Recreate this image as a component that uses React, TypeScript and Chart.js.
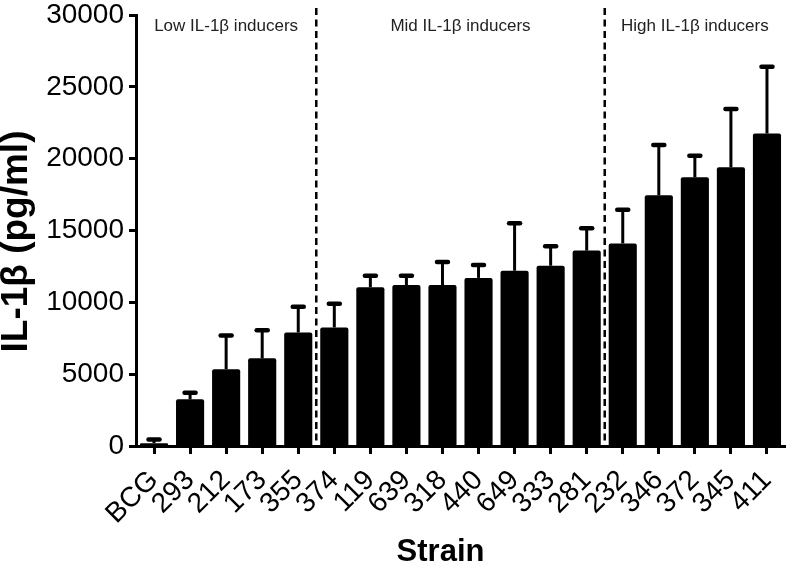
import React, { useEffect, useRef } from "react";
import { Chart, registerables } from "chart.js";

Chart.register(...registerables);

const strains = ["BCG", "293", "212", "173", "355", "374", "119", "639", "318", "440", "649", "333", "281", "232", "346", "372", "345", "411"];
const means = [200, 3250, 5350, 6100, 7900, 8250, 11050, 11200, 11200, 11700, 12200, 12550, 13600, 14100, 17450, 18700, 19400, 21750];
const errors = [250, 450, 2350, 1950, 1800, 1650, 800, 650, 1600, 900, 3300, 1350, 1550, 2350, 3500, 1500, 4050, 4650];
const groupLabels = ["Low IL-1β inducers", "Mid IL-1β inducers", "High IL-1β inducers"];
const groupStarts = [0, 5, 13];
const yMin = 0;
const yMax = 30000;
const yStep = 5000;
const yTitle = "IL-1β (pg/ml)";
const xTitle = "Strain";

const FONT = "'Liberation Sans', Arial, Helvetica, sans-serif";

const overlay = {
  id: "overlay",
  afterDatasetsDraw(chart: any) {
    const { ctx, chartArea } = chart;
    const x = chart.scales.x;
    const y = chart.scales.y;
    ctx.save();
    ctx.strokeStyle = "#000";
    // error bars (upper only)
    means.forEach((m, i) => {
      const bx = x.getPixelForValue(i);
      const y0 = y.getPixelForValue(m);
      const y1 = y.getPixelForValue(m + errors[i]);
      ctx.lineWidth = 3;
      ctx.lineCap = "butt";
      ctx.beginPath();
      ctx.moveTo(bx, y0);
      ctx.lineTo(bx, y1);
      ctx.stroke();
      ctx.lineWidth = 4.5;
      ctx.lineCap = "round";
      ctx.beginPath();
      ctx.moveTo(bx - 5.5, y1);
      ctx.lineTo(bx + 5.5, y1);
      ctx.stroke();
    });
    // group boundaries
    const bounds: number[] = [chartArea.left];
    groupStarts.slice(1).forEach((s) => {
      const xb = (x.getPixelForValue(s - 1) + x.getPixelForValue(s)) / 2;
      bounds.push(xb);
      ctx.setLineDash([7, 4.5]);
      ctx.lineWidth = 2.5;
      ctx.lineCap = "butt";
      ctx.beginPath();
      ctx.moveTo(xb, chartArea.top - 7);
      ctx.lineTo(xb, chartArea.bottom);
      ctx.stroke();
    });
    ctx.setLineDash([]);
    bounds.push(chartArea.right);
    ctx.fillStyle = "#222";
    ctx.font = "17px " + FONT;
    ctx.textAlign = "center";
    ctx.textBaseline = "middle";
    groupLabels.forEach((g, i) => {
      ctx.fillText(g, (bounds[i] + bounds[i + 1]) / 2, chartArea.top + 11);
    });
    // axis titles
    ctx.fillStyle = "#000";
    ctx.font = "bold 31px " + FONT;
    ctx.textAlign = "center";
    ctx.textBaseline = "middle";
    ctx.fillText(xTitle, (chartArea.left + chartArea.right) / 2 - 20, chartArea.bottom + 106);
    ctx.save();
    ctx.translate(17, (chartArea.top + chartArea.bottom) / 2 + 11);
    ctx.rotate(-Math.PI / 2);
    ctx.font = "bold 37px " + FONT;
    ctx.fillText(yTitle, 0, 0);
    ctx.restore();
    ctx.restore();
  },
};

export default function App() {
  const ref = useRef<HTMLCanvasElement>(null);
  useEffect(() => {
    if (!ref.current) return;
    Chart.defaults.font.family = FONT;
    const chart = new Chart(ref.current, {
      type: "bar",
      data: {
        labels: strains,
        datasets: [
          {
            data: means,
            backgroundColor: "#000",
            borderWidth: 0,
            borderRadius: 2,
            barPercentage: 0.78,
            categoryPercentage: 1,
          },
        ],
      },
      options: {
        responsive: false,
        animation: false,
        layout: { padding: { top: 15, right: 4, left: 0, bottom: 0 } },
        plugins: { legend: { display: false }, tooltip: { enabled: false }, title: { display: false } },
        scales: {
          x: {
            offset: true,
            grid: { display: true, drawOnChartArea: false, drawTicks: true, tickLength: 8, tickWidth: 3, tickColor: "#000", offset: false },
            border: { display: true, color: "#000", width: 3 },
            ticks: { color: "#000", font: { size: 28 }, minRotation: 45, maxRotation: 45, padding: 10, autoSkip: false },
            afterFit: (s: any) => {
              s.height = 120;
              s.paddingLeft = 0;
              s.paddingRight = 0;
            },
          },
          y: {
            min: yMin,
            max: yMax,
            grid: { display: true, drawOnChartArea: false, drawTicks: true, tickLength: 7, tickWidth: 3, tickColor: "#000" },
            border: { display: true, color: "#000", width: 3 },
            ticks: {
              color: "#000",
              font: { size: 28 },
              stepSize: yStep,
              padding: 5,
              callback: (v: any) => String(v),
            },
            afterFit: (s: any) => {
              s.width = 136;
              s.paddingTop = 0;
              s.paddingBottom = 0;
            },
          },
        },
      },
      plugins: [overlay],
    });
    return () => chart.destroy();
  }, []);
  return (
    <div style={{ position: "absolute", left: 0, top: 0, width: 789, height: 566 }}>
      <canvas ref={ref} width={789} height={566} />
    </div>
  );
}
